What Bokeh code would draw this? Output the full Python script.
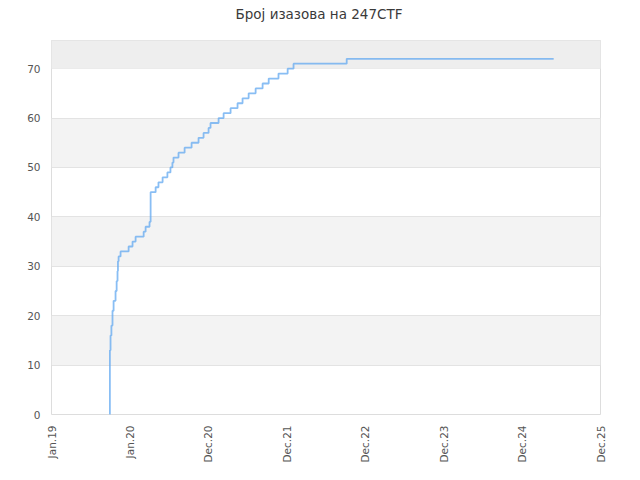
import pandas as pd
from bokeh.plotting import figure
from bokeh.models import Range1d, FixedTicker, BoxAnnotation, Title
from bokeh.embed import file_html
from bokeh.resources import INLINE

# ---- data ----
dates = [
    "2019-10-01", "2019-10-03", "2019-10-06", "2019-10-10", "2019-10-15",
    "2019-10-20", "2019-10-29", "2019-11-03", "2019-11-07", "2019-11-09",
    "2019-11-12", "2019-11-21", "2019-12-28", "2020-01-15", "2020-01-29",
    "2020-03-06", "2020-03-15", "2020-04-02", "2020-04-07", "2020-04-30",
    "2020-05-13", "2020-06-01", "2020-06-23", "2020-07-07", "2020-07-16",
    "2020-07-21", "2020-08-13", "2020-09-10", "2020-10-12", "2020-11-13",
    "2020-12-06", "2020-12-29", "2021-01-07", "2021-02-13", "2021-03-08",
    "2021-04-09", "2021-05-11", "2021-06-03", "2021-07-01", "2021-08-02",
    "2021-09-03", "2021-10-01", "2021-11-15", "2021-12-27", "2022-01-23",
    "2022-09-24", "2025-05-01",
]
counts = [
    0, 13, 16, 18, 21,
    23, 25, 27, 29, 31,
    32, 33, 34, 35, 36,
    37, 38, 39, 45, 46,
    47, 48, 49, 50, 51,
    52, 53, 54, 55, 56,
    57, 58, 59, 60, 61,
    62, 63, 64, 65, 66,
    67, 68, 69, 70, 71,
    72, 72,
]
tick_dates = ["2019-01-08", "2020-01-03", "2020-12-28", "2021-12-23",
              "2022-12-18", "2023-12-13", "2024-12-07", "2025-12-02"]
tick_labels = ["Jan.19", "Jan.20", "Dec.20", "Dec.21",
               "Dec.22", "Dec.23", "Dec.24", "Dec.25"]
y_ticks = [0, 10, 20, 30, 40, 50, 60, 70]
y_max = 75.7
title_text = "Број изазова на 247CTF"

FONT = "DejaVu Sans"


def ms(d):
    return pd.Timestamp(d).value / 1e6


xs = [ms(d) for d in dates]
tx = [ms(d) for d in tick_dates]

p = figure(width=632, height=472, output_backend="svg", toolbar_location=None,
           x_axis_type="datetime",
           x_range=Range1d(tx[0], tx[-1]), y_range=Range1d(0, y_max),
           min_border_left=51, min_border_right=32, min_border_top=40,
           min_border_bottom=58)

p.title = Title(text=title_text, align="left", vertical_align="bottom",
                text_font=FONT, text_font_size="13.5px",
                text_font_style="normal", text_color="#3a3a3a",
                offset=184, standoff=0)
# blank spacer between the title and the plot frame
p.add_layout(Title(text=" ", text_font=FONT, text_font_size="10px",
                   standoff=6), "above")

p.outline_line_color = "#dddddd"
p.outline_line_width = 1
p.background_fill_color = "white"
p.border_fill_color = "white"

# top band
p.add_layout(BoxAnnotation(bottom=y_ticks[-1], fill_color="#eeeeee",
                           fill_alpha=1, line_color=None, level="underlay"))

p.xgrid.grid_line_color = None
p.ygrid.grid_line_color = "#e3e3e3"
p.ygrid.band_fill_color = "#f3f3f3"
p.ygrid.band_fill_alpha = 1.0
p.ygrid.ticker = FixedTicker(ticks=y_ticks)

p.step(xs, counts, mode="after", line_color="#62a8f0", line_width=1.8,
       line_alpha=0.75)

p.xaxis.ticker = FixedTicker(ticks=tx)
p.xaxis.major_label_overrides = {t: l for t, l in zip(tx, tick_labels)}
p.xaxis.major_label_orientation = 3.14159265 / 2
p.yaxis.ticker = FixedTicker(ticks=y_ticks)

for ax in (p.xaxis, p.yaxis):
    ax.axis_line_color = None
    ax.major_tick_line_color = None
    ax.minor_tick_line_color = None
    ax.major_tick_out = 0
    ax.major_tick_in = 0
    ax.major_label_text_font = FONT
    ax.major_label_text_font_size = "10.5px"
    ax.major_label_text_color = "#555555"
    ax.major_label_standoff = 11

open("out.html", "w").write(file_html(p, INLINE))
